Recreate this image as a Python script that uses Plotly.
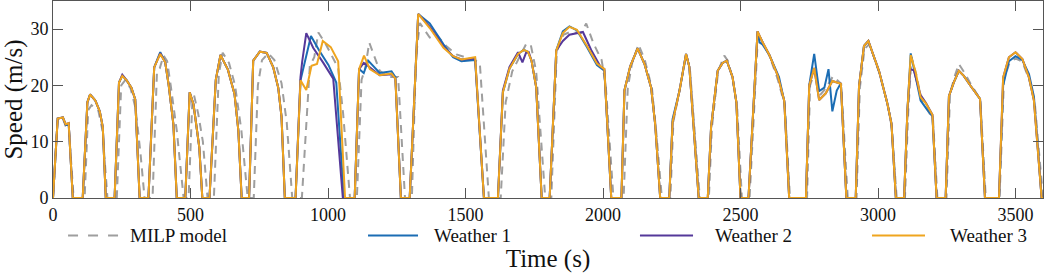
import plotly.graph_objects as go

# ---------------- data ----------------
milp_t = [0, 17, 36, 46, 57, 75,
          115, 128, 140, 165, 180, 198,
          232, 248, 262, 282, 300, 318, 333,
          362, 378, 388, 402, 415, 428, 450, 475,
          493, 507, 513, 528, 545, 562,
          585, 603, 617, 640, 662, 685, 708,
          730, 745, 760, 783, 805, 831, 850, 870,
          905, 922, 934, 950, 965, 990, 1037, 1055, 1080,
          1105, 1122, 1135, 1150, 1188, 1219, 1255, 1280,
          1305, 1320, 1334, 1370, 1394, 1430, 1467, 1527, 1552, 1585,
          1628, 1646, 1670, 1700, 1720, 1737, 1757, 1790,
          1812, 1832, 1856, 1880, 1920, 1939, 1965, 1995, 2010, 2038,
          2075, 2090, 2105, 2129, 2152, 2178, 2195, 2214,
          2245, 2256, 2280, 2303, 2316, 2352,
          2385, 2396, 2419, 2441, 2455, 2472, 2488, 2505,
          2533, 2564, 2582, 2606, 2636, 2661, 2680,
          2742, 2753, 2770, 2788, 2810, 2836, 2866, 2890,
          2922, 2934, 2951, 2968, 2982, 3006, 3036, 3050, 3068,
          3098, 3110, 3122, 3140, 3157, 3176, 3200, 3216,
          3249, 3262, 3278, 3294, 3314, 3338, 3372, 3392,
          3442, 3458, 3478, 3500, 3525, 3550, 3570, 3600]
milp_v = [0, 14.0, 14.1, 12.8, 12.8, 0,
          0, 15.6, 16.5, 15.5, 12.0, 0,
          0, 20.0, 20.9, 19.5, 16.0, 8.0, 0,
          0, 22.4, 23.0, 25.3, 24.3, 20.0, 12.0, 0,
          0, 17.5, 18.2, 15.0, 10.0, 0,
          0, 22.0, 25.8, 24.0, 20.0, 12.0, 0,
          0, 20.0, 24.5, 25.7, 24.5, 20.4, 13.4, 0,
          0, 15.0, 23.5, 25.0, 29.4, 27.5, 23.1, 15.0, 0,
          0, 21.0, 23.0, 27.6, 22.6, 21.5, 21.5, 0,
          0, 25.0, 31.1, 28.5, 29.0, 27.0, 25.5, 24.6, 24.0, 0,
          0, 17.0, 22.5, 25.5, 27.3, 27.3, 22.5, 0,
          0, 26.0, 29.0, 29.5, 29.3, 31.0, 27.5, 24.5, 20.0, 0,
          0, 19.5, 23.8, 27.3, 24.5, 19.5, 11.0, 0,
          0, 13.6, 19.3, 25.4, 23.0, 0,
          0, 12.5, 22.6, 25.3, 24.3, 21.0, 16.0, 0,
          0, 29.3, 27.5, 25.2, 21.0, 16.5, 0,
          0, 20.0, 22.5, 18.2, 19.5, 21.6, 20.3, 0,
          0, 19.5, 26.5, 27.3, 25.5, 22.0, 16.5, 12.5, 0,
          0, 15.3, 25.0, 21.8, 17.5, 16.0, 14.0, 0,
          0, 18.5, 21.5, 23.8, 22.3, 20.2, 17.5, 0,
          0, 21.0, 24.0, 24.8, 24.2, 21.0, 17.0, 0]

w1_t = [0, 17, 36, 46, 57, 72,
        108, 125, 135, 154, 170, 181, 192,
        224, 240, 252, 268, 285, 299, 315,
        347, 368, 390, 408, 420, 438, 450,
        481, 497, 511, 532, 543,
        569, 592, 609, 636, 660, 674, 686,
        713, 728, 752, 777, 801, 819, 831, 843,
        882, 900, 938, 968, 1002, 1030, 1058,
        1097, 1113, 1130, 1146, 1188, 1231, 1245, 1265,
        1297, 1328, 1370, 1420, 1455, 1485, 1535, 1567,
        1618, 1636, 1660, 1691, 1712, 1727, 1740, 1757, 1777,
        1806, 1830, 1854, 1878, 1905, 1942, 1978, 2005, 2030,
        2067, 2078, 2099, 2126, 2151, 2175, 2190, 2208,
        2241, 2253, 2278, 2302, 2314, 2348,
        2381, 2393, 2417, 2435, 2450, 2471, 2485, 2500,
        2529, 2562, 2570, 2580, 2605, 2640, 2660, 2677,
        2738, 2750, 2768, 2786, 2805, 2820, 2834, 2850, 2865, 2885,
        2919, 2931, 2949, 2965, 2980, 3004, 3034, 3049, 3065,
        3095, 3107, 3119, 3137, 3155, 3174, 3198, 3213,
        3246, 3258, 3276, 3294, 3312, 3337, 3371, 3389,
        3440, 3455, 3476, 3500, 3525, 3549, 3567, 3595, 3600]
w1_v = [0, 14.1, 14.3, 13.0, 13.2, 0,
        0, 17.0, 18.4, 17.3, 15.4, 12.6, 0,
        0, 20.5, 21.7, 20.9, 19.6, 17.5, 0,
        0, 23.2, 25.9, 24.1, 20.3, 13.0, 0,
        0, 18.8, 16.6, 9.0, 0,
        0, 21.0, 25.4, 22.8, 18.5, 12.0, 0,
        0, 24.4, 26.0, 25.8, 23.2, 19.6, 14.4, 0,
        0, 20.9, 28.8, 26.2, 23.6, 20.5, 0,
        0, 22.9, 22.2, 24.4, 22.2, 22.5, 21.5, 0,
        0, 32.7, 31.0, 27.3, 25.0, 24.3, 24.5, 0,
        0, 18.8, 23.0, 25.6, 26.3, 26.0, 24.4, 19.7, 0,
        0, 26.2, 29.6, 30.5, 29.8, 26.8, 23.6, 22.6, 0,
        0, 19.1, 23.4, 26.6, 23.8, 19.6, 13.0, 0,
        0, 14.0, 19.0, 25.6, 23.3, 0,
        0, 12.6, 22.6, 24.0, 24.4, 21.5, 17.0, 0,
        0, 29.6, 27.6, 27.3, 25.4, 21.5, 17.0, 0,
        0, 20.0, 25.6, 19.0, 19.6, 22.9, 15.4, 19.1, 20.4, 0,
        0, 19.9, 27.0, 27.9, 25.8, 22.5, 16.8, 13.2, 0,
        0, 15.6, 25.7, 21.5, 17.3, 16.0, 14.5, 0,
        0, 18.1, 20.6, 22.6, 21.7, 19.9, 17.6, 0,
        0, 20.0, 24.3, 25.2, 24.5, 22.0, 18.0, 0, 0]

w2_t = [0, 17, 36, 46, 57, 72,
        108, 125, 135, 154, 170, 181, 192,
        224, 240, 252, 268, 285, 299, 315,
        347, 368, 390, 408, 420, 438, 450,
        481, 497, 511, 532, 543,
        569, 592, 609, 636, 660, 674, 686,
        713, 728, 752, 777, 801, 819, 831, 843,
        882, 900, 906, 921, 946, 983, 1019, 1054,
        1097, 1113, 1130, 1145, 1188, 1231, 1245, 1265,
        1297, 1328, 1370, 1420, 1455, 1485, 1535, 1567,
        1618, 1636, 1660, 1691, 1707, 1720, 1730, 1740, 1757, 1777,
        1806, 1830, 1854, 1878, 1927, 1957, 1990, 2005, 2030,
        2067, 2078, 2099, 2126, 2151, 2175, 2190, 2208,
        2241, 2253, 2278, 2302, 2314, 2348,
        2381, 2393, 2417, 2435, 2450, 2471, 2485, 2500,
        2529, 2562, 2580, 2605, 2635, 2659, 2677,
        2738, 2750, 2768, 2786, 2810, 2834, 2865, 2885,
        2919, 2931, 2949, 2965, 2980, 3004, 3034, 3049, 3065,
        3095, 3107, 3117, 3130, 3155, 3174, 3198, 3213,
        3246, 3258, 3276, 3294, 3312, 3337, 3371, 3389,
        3440, 3455, 3476, 3500, 3525, 3549, 3567, 3595, 3600]
w2_v = [0, 14.1, 14.3, 13.1, 13.3, 0,
        0, 17.0, 18.4, 17.3, 15.4, 12.6, 0,
        0, 20.5, 21.9, 20.9, 19.6, 17.5, 0,
        0, 23.2, 25.7, 24.1, 20.3, 13.0, 0,
        0, 18.8, 16.6, 9.0, 0,
        0, 21.0, 25.4, 22.8, 18.5, 12.0, 0,
        0, 24.4, 26.0, 25.8, 23.2, 19.6, 14.4, 0,
        0, 21.5, 24.2, 29.3, 26.7, 24.0, 21.2, 0,
        0, 22.9, 24.0, 23.5, 21.8, 22.0, 21.2, 0,
        0, 32.7, 30.4, 26.9, 25.2, 24.6, 24.8, 0,
        0, 19.1, 23.3, 25.9, 24.1, 25.8, 25.9, 24.4, 19.7, 0,
        0, 26.2, 27.9, 29.0, 29.5, 26.3, 23.4, 22.9, 0,
        0, 19.1, 23.4, 26.6, 23.8, 19.6, 13.0, 0,
        0, 13.5, 19.0, 25.6, 23.3, 0,
        0, 12.6, 22.6, 24.0, 24.4, 21.5, 17.0, 0,
        0, 29.6, 27.7, 25.4, 21.8, 17.3, 0,
        0, 20.0, 23.1, 17.4, 18.6, 20.8, 20.3, 0,
        0, 19.9, 27.0, 27.9, 25.8, 22.5, 16.8, 13.2, 0,
        0, 15.6, 22.9, 22.7, 18.3, 16.9, 14.8, 0,
        0, 18.1, 20.6, 22.6, 21.7, 19.9, 17.6, 0,
        0, 21.4, 25.0, 25.9, 24.7, 21.4, 17.3, 0, 0]

w3_t = [0, 17, 36, 46, 57, 72,
        108, 125, 135, 154, 170, 181, 192,
        224, 240, 252, 268, 285, 299, 315,
        347, 368, 390, 408, 420, 438, 450,
        481, 497, 511, 532, 543,
        569, 592, 609, 636, 660, 674, 686,
        713, 728, 752, 777, 801, 819, 831, 843,
        882, 900, 921, 940, 960, 981, 1010, 1037, 1062,
        1097, 1113, 1131, 1152, 1188, 1231, 1245, 1265,
        1297, 1328, 1370, 1420, 1455, 1485, 1535, 1567,
        1618, 1636, 1660, 1691, 1712, 1727, 1740, 1757, 1777,
        1806, 1830, 1854, 1878, 1905, 1942, 1978, 2005, 2030,
        2067, 2078, 2099, 2126, 2151, 2175, 2190, 2208,
        2241, 2253, 2278, 2302, 2314, 2348,
        2381, 2393, 2417, 2435, 2450, 2471, 2485, 2500,
        2529, 2562, 2580, 2605, 2635, 2659, 2677,
        2738, 2750, 2768, 2786, 2810, 2834, 2865, 2885,
        2919, 2931, 2949, 2965, 2980, 3004, 3034, 3049, 3065,
        3095, 3107, 3119, 3137, 3155, 3174, 3198, 3213,
        3246, 3258, 3276, 3294, 3312, 3337, 3371, 3389,
        3440, 3455, 3476, 3500, 3525, 3549, 3567, 3595, 3600]
w3_v = [0, 14.1, 14.3, 13.1, 13.3, 0,
        0, 17.0, 18.4, 17.3, 15.4, 12.6, 0,
        0, 20.5, 21.7, 20.9, 19.6, 17.5, 0,
        0, 23.2, 25.6, 24.1, 20.3, 13.0, 0,
        0, 18.8, 16.6, 9.0, 0,
        0, 21.0, 25.4, 22.8, 18.5, 12.0, 0,
        0, 24.4, 26.0, 25.8, 23.2, 19.6, 14.4, 0,
        0, 20.9, 19.2, 23.5, 23.8, 27.9, 26.8, 24.3, 0,
        0, 22.9, 25.3, 22.9, 21.8, 22.1, 21.2, 0,
        0, 32.7, 30.2, 26.7, 25.2, 24.6, 25.0, 0,
        0, 18.8, 23.0, 25.6, 26.3, 26.0, 24.4, 19.7, 0,
        0, 26.2, 29.3, 30.4, 29.9, 27.0, 23.9, 22.9, 0,
        0, 19.1, 23.4, 26.6, 23.8, 19.6, 13.0, 0,
        0, 13.5, 19.0, 25.6, 23.3, 0,
        0, 12.6, 22.6, 24.0, 24.4, 21.5, 17.0, 0,
        0, 29.6, 27.7, 25.4, 21.8, 17.3, 0,
        0, 20.0, 23.1, 17.4, 18.6, 20.8, 20.3, 0,
        0, 19.9, 27.0, 27.9, 25.8, 22.5, 16.8, 13.2, 0,
        0, 15.6, 25.4, 22.3, 17.9, 16.8, 14.8, 0,
        0, 18.1, 20.6, 22.6, 21.7, 19.9, 17.6, 0,
        0, 21.4, 25.0, 25.9, 24.7, 21.4, 17.3, 0, 0]

series_names = ["MILP model", "Weather 1", "Weather 2", "Weather 3"]
x_ticks = [0, 500, 1000, 1500, 2000, 2500, 3000, 3500]
y_ticks = [0, 10, 20, 30]

# ---------------- style ----------------
FONT = "'Times New Roman', 'Liberation Serif', Times, serif"
C_MILP = "#9e9e9e"
C_W1 = "#1b6db4"
C_W2 = "#55389a"
C_W3 = "#efa51f"
colors = [C_MILP, C_W1, C_W2, C_W3]
dashes = ["8px,6px", "solid", "solid", "solid"]

fig = go.Figure()
for name, t, v, c, d in zip(series_names,
                            [milp_t, w1_t, w2_t, w3_t],
                            [milp_v, w1_v, w2_v, w3_v],
                            colors, dashes):
    fig.add_trace(go.Scatter(x=t, y=v, mode="lines", name=name,
                             line=dict(color=c, width=2, dash=d),
                             showlegend=False))

axis_common = dict(showline=True, linecolor="#555555", linewidth=1,
                   mirror="allticks", ticks="inside", ticklen=10,
                   tickcolor="#555555", tickwidth=1, showgrid=False,
                   zeroline=False,
                   tickfont=dict(family=FONT, size=18, color="#111111"))

fig.update_layout(
    width=1045, height=273,
    margin=dict(l=53, r=2, t=1, b=75),
    paper_bgcolor="white", plot_bgcolor="white",
    font=dict(family=FONT, color="#111111"),
    xaxis=dict(range=[0, 3600], tickvals=x_ticks, ticktext=[str(v) for v in x_ticks],
               title=dict(text="Time (s)", font=dict(family=FONT, size=25), standoff=30),
               **axis_common),
    yaxis=dict(range=[0, 35], tickvals=y_ticks, ticktext=[str(v) for v in y_ticks],
               title=dict(text="Speed (m/s)", font=dict(family=FONT, size=25), standoff=6),
               **axis_common),
)

# ---------------- legend (drawn below the axis) ----------------
leg_y = -0.19
leg_items = [  # sample start, sample end, text start (paper x)
    (0.0152, 0.0657, 0.0758),
    (0.3182, 0.3687, 0.3828),
    (0.5929, 0.6465, 0.6667),
    (0.8273, 0.8808, 0.9040),
]
for (x0, x1, xt), name, c, d in zip(leg_items, series_names, colors,
                                    ["10px,10px", "solid", "solid", "solid"]):
    fig.add_shape(type="line", xref="paper", yref="paper", x0=x0, x1=x1,
                  y0=leg_y, y1=leg_y, line=dict(color=c, width=2, dash=d))
    fig.add_annotation(xref="paper", yref="paper", x=xt, y=leg_y, text=name,
                       showarrow=False, xanchor="left", yanchor="middle",
                       font=dict(family=FONT, size=19, color="#111111"))

fig.write_html("out.html",
               config={"displayModeBar": False},
               post_script="document.body.style.margin='0';document.body.style.overflow='hidden';")
